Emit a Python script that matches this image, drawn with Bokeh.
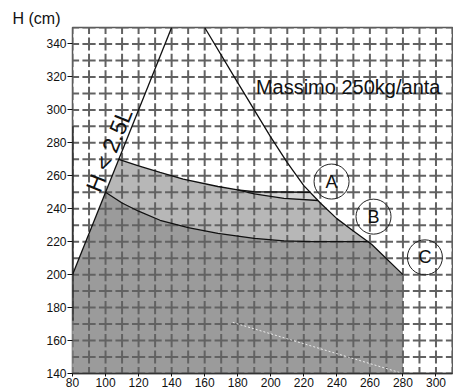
import numpy as np
from bokeh.plotting import figure
from bokeh.models import Label, Range1d, FixedTicker
from bokeh.embed import file_html
from bokeh.resources import INLINE
from bokeh.core.properties import value

# ---- data ----
x_ticks = [80, 100, 120, 140, 160, 180, 200, 220, 240, 260, 280, 300]
y_ticks = [140, 160, 180, 200, 220, 240, 260, 280, 300, 320, 340]

diag_x = [80, 140]                       # H = 2.5 L
diag_y = [200, 350]

big_x = [160, 180, 200, 210, 220, 230, 240, 250, 261, 280]
big_y = [350, 316.5, 283.5, 268, 254, 243.5, 234, 226.5, 218.5, 200]

up_x = [108, 120, 133, 147, 168, 180]
up_y = [270, 266, 262, 258, 253.5, 251.5]

a_x = [180, 190, 224]
a_y = [251.5, 250.3, 250]

b_x = [180, 190, 208, 228.6]
b_y = [251.5, 249, 246.3, 245]

c_x = [100, 110, 120, 133, 150, 168, 190, 208, 225, 259]
c_y = [250, 243.5, 238.5, 233, 228.5, 225, 222, 220.5, 220, 220]

x_left, x_right, y_bottom = 80, 280, 140

circle_labels = ["A", "B", "C"]
circle_x = [236.8, 262.2, 293.3]
circle_y = [256.5, 235.2, 210.5]

ghost_x = [177, 280]
ghost_y = [171, 140]

FONT = "Liberation Sans"

p = figure(width=453, height=391, output_backend="svg", toolbar_location=None,
           x_range=Range1d(80, 310), y_range=Range1d(140, 350),
           min_border_left=72, min_border_right=1, min_border_top=27,
           min_border_bottom=18)
p.background_fill_color = "white"
p.border_fill_color = "white"
p.outline_line_color = "#5a5a5a"
p.outline_line_width = 1.5
p.xgrid.visible = False
p.ygrid.visible = False

p.title.text = "H (cm)"
p.title.align = "left"
p.title.offset = -60
p.title.standoff = 1
p.title.text_font = FONT
p.title.text_font_size = "16px"
p.title.text_font_style = "normal"
p.title.text_color = "#111111"


def tail_after(xs, ys, x0):
    return [x for x in xs if x > x0], [y for x, y in zip(xs, ys) if x > x0]


# region A (lightest)
bx, by = tail_after(big_x, big_y, a_x[-1])
pa_x = [x_left, x_left] + up_x + a_x[1:] + bx + [x_right]
pa_y = [y_bottom, diag_y[0]] + up_y + a_y[1:] + by + [y_bottom]
p.patch(pa_x, pa_y, fill_color="#d6d6d6", line_color=None)

# region B
bx, by = tail_after(big_x, big_y, b_x[-1])
pb_x = [x_left, x_left] + up_x + b_x[1:] + bx + [x_right]
pb_y = [y_bottom, diag_y[0]] + up_y + b_y[1:] + by + [y_bottom]
p.patch(pb_x, pb_y, fill_color="#b7b7b7", line_color=None)

# region C (darkest)
bx, by = tail_after(big_x, big_y, c_x[-1])
pc_x = [x_left, x_left] + c_x + bx + [x_right]
pc_y = [y_bottom, diag_y[0]] + c_y + by + [y_bottom]
p.patch(pc_x, pc_y, fill_color="#9b9b9b", line_color=None)

# decorative grating pattern
gx = np.arange(80, 311, 10)
gy = np.arange(140, 351, 10)
GX, GY = np.meshgrid(gx, gy)
GX = GX.ravel().astype(float)
GY = GY.ravel().astype(float)
h = 4.0
p.segment(x0=GX - h, y0=GY, x1=GX + h, y1=GY, line_color="#626262", line_width=2)
p.segment(x0=GX, y0=GY - h, x1=GX, y1=GY + h, line_color="#626262", line_width=2)

# faint white streak
p.line(ghost_x, ghost_y, line_color="white", line_width=1, line_dash="2 2", line_alpha=0.8)

# black boundary lines
lc, lw = "#111111", 1.3
p.line(diag_x, diag_y, line_color=lc, line_width=lw)
p.line(big_x, big_y, line_color=lc, line_width=lw)
p.line(up_x, up_y, line_color=lc, line_width=lw)
p.line(a_x, a_y, line_color=lc, line_width=lw)
p.line(b_x, b_y, line_color=lc, line_width=lw)
p.line(c_x, c_y, line_color=lc, line_width=lw)
p.line([80, 80], [172, 290], line_color=lc, line_width=2)

# circled letters
p.scatter(circle_x, circle_y, size=35, marker="circle", fill_alpha=0,
          line_color="#222222", line_width=1)
p.text(circle_x, circle_y, text=circle_labels, text_align="center",
       text_baseline="middle", text_font=value(FONT), text_font_size="18px",
       text_color="#111111")

# texts
p.add_layout(Label(x=191, y=314, text="Massimo 250kg/anta", text_font=FONT,
                   text_font_size="20px", text_baseline="middle", text_color="#111111"))
ang = float(np.arctan2(2.5 * 346 / 210, 380 / 230))
p.add_layout(Label(x=102.2, y=275.5, text="H < 2.5L", text_font=FONT, angle=ang,
                   text_font_size="23px", text_align="center", text_baseline="middle",
                   text_color="#111111"))

# axes
for ax in (p.xaxis[0], p.yaxis[0]):
    ax.major_label_text_font = FONT
    ax.major_label_text_font_size = "12px"
    ax.major_label_text_color = "#111111"
    ax.minor_tick_line_color = None
    ax.major_tick_line_color = "#111111"
    ax.major_tick_in = 0
p.xaxis.ticker = FixedTicker(ticks=x_ticks)
p.yaxis.ticker = FixedTicker(ticks=y_ticks)
p.xaxis.major_tick_out = 3
p.xaxis.major_label_standoff = 1
p.xaxis.axis_line_color = "#333333"
p.xaxis.axis_line_width = 1.5
p.yaxis.major_tick_out = 5
p.yaxis.major_label_standoff = 1
p.yaxis.axis_line_color = None

open("out.html", "w").write(file_html(p, INLINE))
